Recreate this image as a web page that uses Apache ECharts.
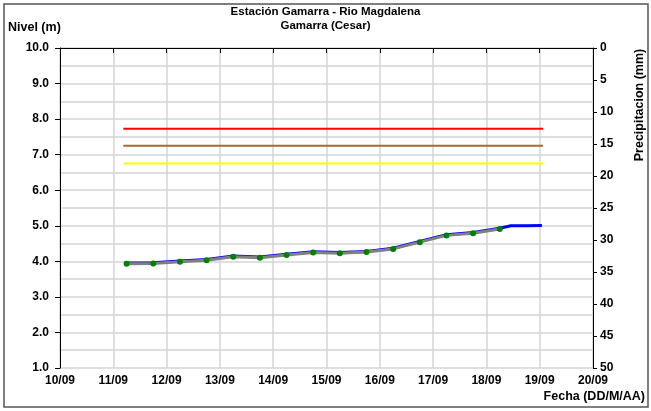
<!DOCTYPE html>
<html><head><meta charset="utf-8">
<script src="https://cdn.jsdelivr.net/npm/echarts@6/dist/echarts.min.js"></script>
<style>html,body{margin:0;padding:0;background:#fff}#c{width:651px;height:411px}</style>
</head><body><div id="c"></div>
<script>
// Categories / ticks
const dayLabels = ['10/09','11/09','12/09','13/09','14/09','15/09','16/09','17/09','18/09','19/09','20/09'];
// Observed level (gray line with green points) - time as "DD/MM HH:mm"
const obsTimes = ['11/09 06:00','11/09 18:00','12/09 06:00','12/09 18:00','13/09 06:00','13/09 18:00','14/09 06:00','14/09 18:00','15/09 06:00','15/09 18:00','16/09 06:00','16/09 18:00','17/09 06:00','17/09 18:00','18/09 06:00'];
const obsLevels = [3.93,3.94,3.99,4.03,4.13,4.10,4.18,4.25,4.23,4.26,4.35,4.54,4.73,4.79,4.91];
// Continuous level (blue line)
const contTimes = ['11/09 05:00','11/09 06:00','11/09 18:00','12/09 06:00','12/09 18:00','13/09 06:00','13/09 18:00','14/09 06:00','14/09 18:00','15/09 06:00','15/09 18:00','16/09 06:00','16/09 18:00','17/09 06:00','17/09 18:00','18/09 06:00','18/09 11:00','18/09 18:00','19/09 01:00'];
const contLevels = [3.95,3.95,3.96,4.01,4.05,4.15,4.12,4.20,4.27,4.25,4.28,4.37,4.56,4.75,4.81,4.93,5.00,5.00,5.01];
// Threshold levels (red, brown, yellow)
const thresholdStart = '11/09 04:30';
const thresholdEnd = '19/09 01:30';
const thresholdLevels = [7.73, 7.25, 6.75];
const thresholdColors = ['#ff0000', '#a86a32', '#ffff00'];

function toHours(s){ // hours since 10/09 00:00
  const [d, t] = s.split(' ');
  const day = parseInt(d.split('/')[0], 10);
  const [h, m] = t.split(':').map(Number);
  return (day - 10) * 24 + h + m / 60;
}
const font = 'Liberation Sans, Arial, sans-serif';
const chart = echarts.init(document.getElementById('c'), null, {renderer:'canvas'});
const series = [];
thresholdLevels.forEach((v, i) => {
  series.push({type:'line', symbol:'none', silent:true, z:2,
    lineStyle:{color:thresholdColors[i], width:2},
    data:[[toHours(thresholdStart), v],[toHours(thresholdEnd), v]]});
});
series.push({type:'line', symbol:'none', z:3,
  lineStyle:{color:'#0000ff', width:3},
  data: contTimes.map((t,i)=>[toHours(t), contLevels[i]])});
series.push({type:'line', symbol:'circle', symbolSize:6, z:4,
  itemStyle:{color:'#008000', borderWidth:0},
  lineStyle:{color:'#808080', width:3},
  data: obsTimes.map((t,i)=>[toHours(t), obsLevels[i]])});

chart.setOption({
  backgroundColor:'#fff',
  animation:false,
  grid:{left:60, right:58, top:48, bottom:43},
  xAxis:{type:'value', min:0, max:240, interval:24,
    axisLine:{lineStyle:{color:'#000', width:1}},
    axisTick:{show:true, length:5, lineStyle:{color:'#000'}},
    axisLabel:{formatter:v=>dayLabels[Math.round(v/24)], color:'#000', fontWeight:'bold', fontSize:12, fontFamily:font, margin:7},
    splitLine:{show:true, lineStyle:{color:'#d4d4d4', width:1.5}}},
  yAxis:[{type:'value', min:1, max:10, interval:1, position:'left',
      axisLine:{show:true, lineStyle:{color:'#000', width:1}},
      axisTick:{show:true, length:5, lineStyle:{color:'#000'}},
      axisLabel:{formatter:v=>v.toFixed(1), color:'#000', fontWeight:'bold', fontSize:12, fontFamily:font, margin:11},
      splitLine:{show:true, lineStyle:{color:'#d4d4d4', width:1.5}},
      minorTick:{show:false, splitNumber:2},
      minorSplitLine:{show:true, lineStyle:{color:'#d4d4d4', width:1.5}}},
    {type:'value', min:0, max:50, interval:5, inverse:true, position:'right',
      axisLine:{show:true, lineStyle:{color:'#000', width:1}},
      axisTick:{show:true, length:4, lineStyle:{color:'#000'}},
      axisLabel:{color:'#000', fontWeight:'bold', fontSize:12, fontFamily:font, margin:7},
      splitLine:{show:false}}],
  series: series,
  graphic:[
    {type:'rect', shape:{x:4, y:4, width:644, height:403}, style:{fill:null, stroke:'#555', lineWidth:1.5}, silent:true, z:0},
    {type:'text', left:'center', top:5, style:{text:'Estación Gamarra - Rio Magdalena\nGamarra (Cesar)', font:'bold 11.5px '+font, fill:'#000', textAlign:'center', lineHeight:14}},
    {type:'text', left:8, top:21, style:{text:'Nivel (m)', font:'bold 12.5px '+font, fill:'#000'}},
    {type:'text', right:6, top:390, style:{text:'Fecha (DD/M/AA)', font:'bold 12.5px '+font, fill:'#000'}},
    {type:'text', x:640, y:105, rotation:Math.PI/2, style:{text:'Precipitacion (mm)', font:'bold 12.5px '+font, fill:'#000', textAlign:'center', textVerticalAlign:'middle'}}
  ]
});
</script></body></html>
